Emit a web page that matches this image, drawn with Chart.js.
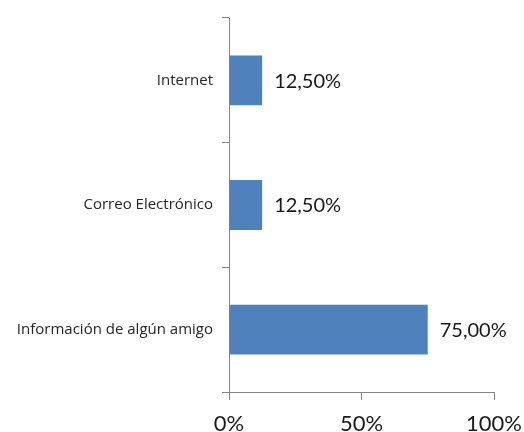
<!DOCTYPE html>
<html>
<head>
<meta charset="utf-8">
<script src="https://cdn.jsdelivr.net/npm/chart.js@4"></script>
<style>
  html, body { margin: 0; padding: 0; background: #fff; overflow: hidden; }
  #chart { display: block; }
</style>
</head>
<body>
<canvas id="chart" width="524" height="432"></canvas>
<script>
// data
const categories = ['Internet', 'Correo Electrónico', 'Información de algún amigo'];
const values = [12.5, 12.5, 75];
const xTicks = [0, 50, 100];

const axisGray = '#868686';
const barBlue = '#4F81BD';

// write the value next to the end of each bar
const valueLabels = {
    id: 'valueLabels',
    afterDatasetsDraw(chart) {
        const ctx = chart.ctx;
        const meta = chart.getDatasetMeta(0);
        ctx.save();
        ctx.font = '20px Lato';
        ctx.fillStyle = '#1a1a1a';
        ctx.textAlign = 'left';
        ctx.textBaseline = 'middle';
        meta.data.forEach(function(bar, i) {
            const txt = values[i].toFixed(2).replace('.', ',') + '%';
            ctx.fillText(txt, bar.x + 12, bar.y + 1);
        });
        ctx.restore();
    }
};

window.onload = function() {
    const el = document.getElementById('chart');
    new Chart(el, {
        type: 'bar',
        data: {
            labels: categories,
            datasets: [{
                data: values,
                backgroundColor: barBlue,
                borderWidth: 0,
                categoryPercentage: 1,
                barPercentage: 0.4
            }]
        },
        options: {
            indexAxis: 'y',
            responsive: false,
            animation: false,
            layout: { padding: { top: 15, right: 30, left: 0, bottom: 0 } },
            plugins: {
                legend: { display: false },
                tooltip: { enabled: false }
            },
            scales: {
                x: {
                    min: 0,
                    max: 100,
                    afterBuildTicks(scale) {
                        scale.ticks = xTicks.map(v => ({ value: v }));
                    },
                    afterFit(scale) {
                        scale.height = 40;
                        scale.paddingLeft = 0;
                        scale.paddingRight = 0;
                    },
                    border: { display: true, color: axisGray, width: 1 },
                    grid: { drawOnChartArea: false, drawTicks: true, tickLength: 8, color: axisGray },
                    ticks: {
                        maxRotation: 0,
                        padding: 11,
                        color: '#1a1a1a',
                        font: { family: 'Lato', size: 22 },
                        callback: v => v + '%'
                    }
                },
                y: {
                    offset: true,
                    afterFit(scale) {
                        scale.width = 229;
                    },
                    border: { display: true, color: axisGray, width: 1 },
                    grid: { offset: true, drawOnChartArea: false, drawTicks: true, tickLength: 7, color: axisGray },
                    ticks: {
                        padding: 9,
                        color: '#262626',
                        font: { family: 'Open Sans', size: 15 }
                    }
                }
            }
        },
        plugins: [valueLabels]
    });
};
</script>
</body>
</html>
